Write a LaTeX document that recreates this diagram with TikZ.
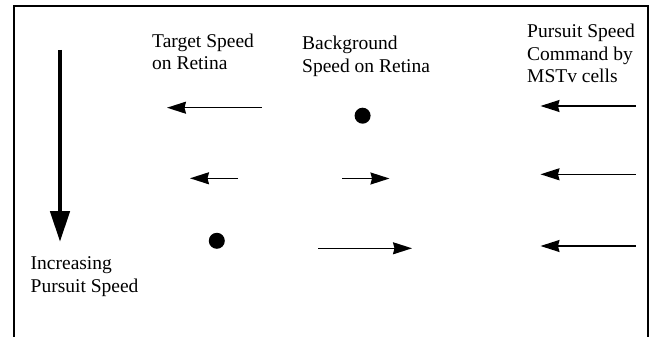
\documentclass[tikz,border=0pt]{standalone}
\usepackage{fontspec}
\setmainfont{Liberation Serif}
\usetikzlibrary{arrows.meta}
\tikzset{
  lbl/.style={anchor=north west, inner sep=0pt, align=left, font=\fontsize{19.5}{22.6}\selectfont},
  vec/.style={line width=1.4pt, -{Stealth[length=19pt,width=12pt,inset=1.5pt]}},
  bigvec/.style={line width=4.8pt, -{Triangle[length=31pt,width=19pt]}},
  dot/.style={circle, fill=black, inner sep=0pt, minimum size=16pt},
  frameline/.style={line width=2pt}
}
\begin{document}
\begin{tikzpicture}[x=1pt,y=-1pt]
\useasboundingbox (0,0) rectangle (649,337);
\fill[white] (0,0) rectangle (649,337);
% frame
\draw[frameline] (13.5,337) -- (13.5,6.5) -- (647.5,6.5) -- (647.5,337);
% labels
\node[lbl] (tgt) at (152,33.5) {Target Speed\\on Retina};
\node[lbl] (bg) at (302,35.8) {Background\\Speed on Retina};
\node[lbl] (cmd) at (527,23.8) {Pursuit Speed\\Command by\\MSTv cells};
\node[lbl] (inc) at (30.5,256.8) {Increasing\\Pursuit Speed};
% big arrow
\coordinate (b0) at (60,50);
\coordinate (b1) at (60,242);
\draw[bigvec] (b0) -- (b1);
% row 1
\coordinate (t1s) at (261.5,107.7);
\coordinate (t1e) at (167,107.7);
\draw[vec] (t1s) -- (t1e);
\node[dot] (d1) at (362.6,115.7) {};
\coordinate (m1s) at (635.5,106);
\coordinate (m1e) at (540.5,106);
\draw[vec] (m1s) -- (m1e);
% row 2
\coordinate (t2s) at (238,178.3);
\coordinate (t2e) at (190,178.3);
\draw[vec] (t2s) -- (t2e);
\coordinate (g2s) at (342,178.5);
\coordinate (g2e) at (389.5,178.5);
\draw[vec] (g2s) -- (g2e);
\coordinate (m2s) at (635.5,174.3);
\coordinate (m2e) at (540.5,174.3);
\draw[vec] (m2s) -- (m2e);
% row 3
\node[dot] (d3) at (216.8,240.8) {};
\coordinate (g3s) at (318,248.3);
\coordinate (g3e) at (412,248.3);
\draw[vec] (g3s) -- (g3e);
\coordinate (m3s) at (635.5,246);
\coordinate (m3e) at (540.5,246);
\draw[vec] (m3s) -- (m3e);
\end{tikzpicture}
\end{document}
